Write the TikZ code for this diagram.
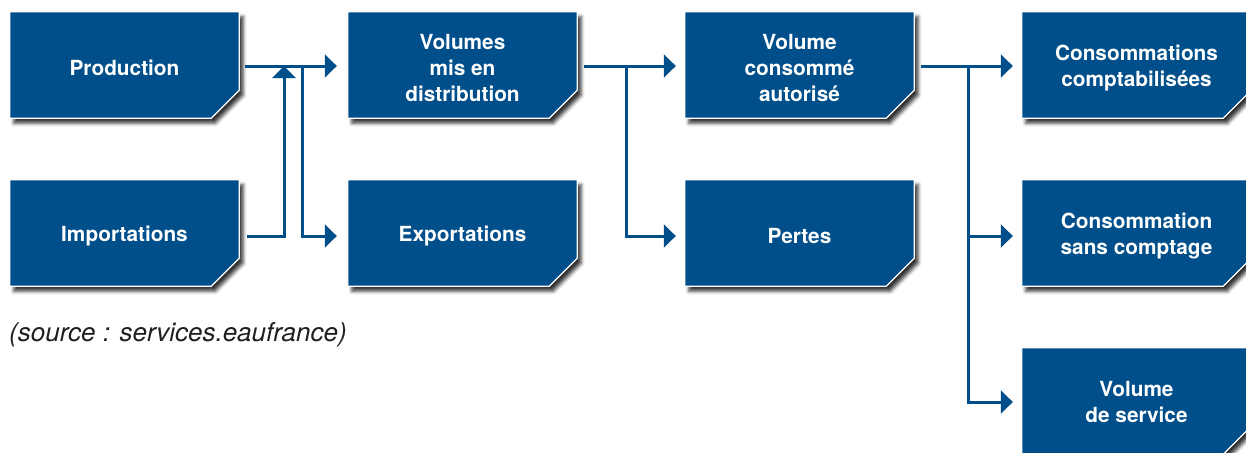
\documentclass[tikz,border=0pt]{standalone}
\usepackage{fontspec}
\setmainfont{TeX Gyre Heros}
\usetikzlibrary{arrows.meta,shadows.blur,backgrounds}
\definecolor{eau}{RGB}{0,79,138}
\begin{document}
\begin{tikzpicture}[x=1pt,y=-1pt,
  blk/.style={rectangle, minimum width=229pt, minimum height=106pt, inner sep=0pt,
    text=white, align=center, font=\fontsize{20.8}{26}\selectfont\bfseries},
  plate/.style={fill=eau, draw=white, line width=1.2pt,
    blur shadow={shadow xshift=4pt, shadow yshift=-5pt, shadow blur radius=3.5pt, shadow opacity=80}},
  arr/.style={draw=eau, line width=3pt, -{Triangle[length=12pt,width=23pt]}}]
\useasboundingbox (0,0) rectangle (1246,452);
\node[blk, yshift=-3pt] (prod) at (124.5,65) {Production};
\node[blk, yshift=-3pt] (imp) at (124.5,233) {Importations};
\node[blk, yshift=-3pt] (vol) at (462.5,65) {Volumes\\mis en\\distribution};
\node[blk, yshift=-3pt] (exp) at (462.5,233) {Exportations};
\node[blk, yshift=-3pt] (cons) at (799.5,65) {Volume\\consommé\\autorisé};
\node[blk, yshift=-3pt] (pert) at (799.5,233) {Pertes};
\node[blk, yshift=-3pt] (comp) at (1136.5,65) {Consommations\\comptabilisées};
\node[blk, yshift=-3pt] (sans) at (1136.5,233) {Consommation\\sans comptage};
\node[blk, yshift=-1pt] (serv) at (1136.5,401) {Volume\\de service};
\begin{scope}[on background layer]
\foreach \n/\s in {prod/3,imp/3,vol/3,exp/3,cons/3,pert/3,comp/3,sans/3,serv/1}{
  \path[plate] ([yshift=\s pt]\n.north west) -- ([yshift=\s pt]\n.north east)
    -- ([yshift=\s pt+28pt]\n.south east)
    -- ([xshift=-28pt,yshift=\s pt]\n.south east) -- ([yshift=\s pt]\n.south west) -- cycle;
}
\end{scope}
\node[anchor=west, inner sep=0pt, font=\fontsize{26}{30}\selectfont\itshape, text=black!88] (src) at (9,335) {(source : services.eaufrance)};
\coordinate (j1) at (284,66);
\coordinate (j2) at (302,66);
\coordinate (j3) at (626,66);
\coordinate (j4) at (968,66);
\coordinate (r2) at (0,236);
\coordinate (r3) at (0,402);
\draw[arr, shorten <=6pt, shorten >=11pt] (prod.east |- j1) -- (vol.west |- j1);
\draw[arr, shorten <=8pt] (imp.east |- r2) -| (j1);
\draw[arr, shorten >=11pt] (j2) |- (exp.west |- r2);
\draw[arr, shorten <=7pt, shorten >=9pt] (vol.east |- j3) -- (cons.west |- j3);
\draw[arr, shorten >=9pt] (j3) |- (pert.west |- r2);
\draw[arr, shorten <=7pt, shorten >=9pt] (cons.east |- j4) -- (comp.west |- j4);
\draw[arr, shorten >=9pt] (j4) |- (sans.west |- r2);
\draw[arr, shorten >=9pt] (j4) |- (serv.west |- r3);
\end{tikzpicture}
\end{document}
